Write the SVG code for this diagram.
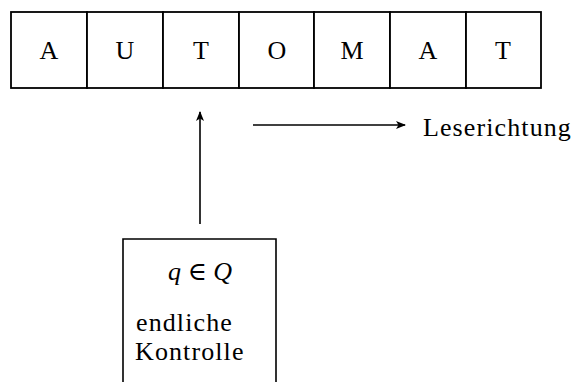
<svg xmlns="http://www.w3.org/2000/svg" width="574" height="382" viewBox="0 0 574 382">
<style>
.c{fill:#fff;stroke:#000;stroke-width:1.8}
text{font-family:'Liberation Serif','DejaVu Serif','Times New Roman',serif;font-size:26px;fill:#000}
.m{text-anchor:middle}
.w{letter-spacing:1.1px}
.ln{stroke:#000;stroke-width:1.6;fill:none}
</style>
<defs>
<marker id="ah" markerWidth="10" markerHeight="8" refX="9" refY="4" orient="auto" markerUnits="userSpaceOnUse">
<path d="M0,0 L10,4 L0,8 L2.5,4 Z" fill="#000"/>
</marker>
</defs>
<g id="tape">
<g id="cell1"><rect class="c" x="11" y="12" width="76" height="76"/><text class="m" x="49" y="59">A</text></g>
<g id="cell2"><rect class="c" x="87" y="12" width="76" height="76"/><text class="m" x="125" y="59">U</text></g>
<g id="cell3"><rect class="c" x="163" y="12" width="76" height="76"/><text class="m" x="201" y="59">T</text></g>
<g id="cell4"><rect class="c" x="239" y="12" width="75" height="76"/><text class="m" x="277" y="59">O</text></g>
<g id="cell5"><rect class="c" x="314" y="12" width="76" height="76"/><text class="m" x="352" y="59">M</text></g>
<g id="cell6"><rect class="c" x="390" y="12" width="76" height="76"/><text class="m" x="428" y="59">A</text></g>
<g id="cell7"><rect class="c" x="466" y="12" width="75" height="76"/><text class="m" x="503" y="59">T</text></g>
</g>
<g id="control">
<path class="ln" d="M123,382 L123,239 L276,239 L276,382"/>
<text class="m" x="200" y="280"><tspan font-style="italic">q</tspan> ∈ <tspan font-style="italic">Q</tspan></text>
<text class="w" x="136" y="331">endliche</text>
<text class="w" x="135" y="360">Kontrolle</text>
</g>
<g id="label">
<text class="w" x="423" y="136">Leserichtung</text>
</g>
<g id="connectors">
<line class="ln" x1="200" y1="224" x2="200" y2="112" marker-end="url(#ah)"/>
<line class="ln" x1="253" y1="125" x2="405" y2="125" marker-end="url(#ah)"/>
</g>
</svg>
